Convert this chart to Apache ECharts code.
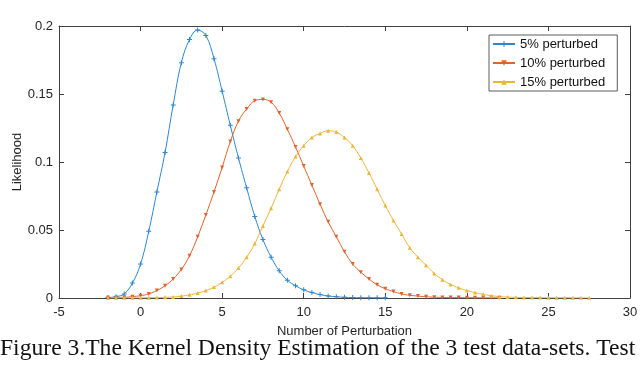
<!DOCTYPE html>
<html>
<head>
<meta charset="utf-8">
<script src="https://cdn.jsdelivr.net/npm/echarts@6/dist/echarts.min.js"></script>
<style>html,body{margin:0;padding:0;background:#fff}#c{width:640px;height:366px}</style>
</head>
<body>
<div id="c"></div>
<script>
// x positions (Number of Perturbation), step 0.5
const xBlue = [-2,-1.5,-1,-0.5,0,0.5,1,1.5,2,2.5,3,3.5,4,4.5,5,5.5,6,6.5,7,7.5,8,8.5,9,9.5,10,10.5,11,11.5,12,12.5,13,13.5,14,14.5,15];
const yBlue = [0.0003,0.001,0.003,0.011,0.025,0.049,0.078,0.107,0.142,0.173,0.190,0.197,0.193,0.176,0.152,0.127,0.103,0.081,0.060,0.043,0.030,0.020,0.013,0.009,0.006,0.004,0.0025,0.0015,0.0009,0.0005,0.0003,0.0002,0.0002,0.0001,0.0001];
const xRed = [-2,-1.5,-1,-0.5,0,0.5,1,1.5,2,2.5,3,3.5,4,4.5,5,5.5,6,6.5,7,7.5,8,8.5,9,9.5,10,10.5,11,11.5,12,12.5,13,13.5,14,14.5,15,15.5,16,16.5,17,17.5,18,18.5,19,19.5,20,20.5,21,21.5,22];
const yRed = [0.0002,0.0003,0.0005,0.001,0.0017,0.003,0.0055,0.009,0.014,0.021,0.031,0.045,0.061,0.078,0.096,0.115,0.130,0.139,0.145,0.146,0.144,0.136,0.124,0.111,0.097,0.083,0.069,0.056,0.045,0.034,0.025,0.019,0.014,0.0097,0.0068,0.0047,0.003,0.002,0.0014,0.0009,0.0006,0.0004,0.0003,0.0003,0.0002,0.0002,0.0001,0.0001,0.0001];
const xYellow = [-2,-1.5,-1,-0.5,0,0.5,1,1.5,2,2.5,3,3.5,4,4.5,5,5.5,6,6.5,7,7.5,8,8.5,9,9.5,10,10.5,11,11.5,12,12.5,13,13.5,14,14.5,15,15.5,16,16.5,17,17.5,18,18.5,19,19.5,20,20.5,21,21.5,22,22.5,23,23.5,24,24.5,25,25.5,26,26.5,27,27.5];
const yYellow = [0.0001,0.0001,0.0001,0.0001,0.0001,0.0002,0.0003,0.0005,0.0008,0.0014,0.0023,0.0036,0.0055,0.008,0.0115,0.016,0.022,0.030,0.040,0.053,0.066,0.080,0.093,0.104,0.112,0.118,0.121,0.123,0.122,0.118,0.112,0.103,0.092,0.080,0.068,0.057,0.047,0.037,0.030,0.024,0.018,0.0135,0.010,0.0075,0.0055,0.004,0.0027,0.0017,0.001,0.0007,0.0005,0.0004,0.0003,0.0003,0.0002,0.0002,0.0002,0.0001,0.0001,0.0001];
const seriesNames = ['5% perturbed','10% perturbed','15% perturbed'];
const xTicks = [-5,0,5,10,15,20,25,30];
const yTicks = [0,0.05,0.1,0.15,0.2];

const colors = ['#2F86CF','#E0622E','#EDB53A'];
const pairs = (xs, ys) => xs.map((x, i) => [x, ys[i]]);
const plusPath = 'path://M4,0h2v10h-2zM0,4h10v2h-10z';

const axisLineStyle = {color:'#404040', width:1};
const labelFont = {fontFamily:'Liberation Sans, Arial, sans-serif', fontSize:13, color:'#262626'};

const chart = echarts.init(document.getElementById('c'), null, {renderer:'canvas'});
chart.setOption({
  animation:false,
  backgroundColor:'#fff',
  grid:{left:59, top:26, right:10, bottom:68, containLabel:false, outerBoundsMode:'none'},
  legend:{
    orient:'vertical', left:489, top:35,
    backgroundColor:'#fff', borderColor:'#333', borderWidth:0.8, borderRadius:0,
    padding:[2,12,2,3], itemGap:5, itemWidth:22, itemHeight:7,
    textStyle:{fontFamily:'Liberation Sans, Arial, sans-serif', fontSize:13, color:'#111', lineHeight:14},
    data:seriesNames
  },
  xAxis:[{
    type:'value', min:xTicks[0], max:xTicks[xTicks.length-1], interval:5, position:'bottom',
    name:'Number of Perturbation', nameLocation:'middle', nameGap:27,
    nameTextStyle:labelFont,
    axisLine:{show:true, onZero:false, lineStyle:axisLineStyle},
    axisTick:{show:true, inside:true, length:5, lineStyle:axisLineStyle},
    axisLabel:Object.assign({margin:8}, labelFont),
    splitLine:{show:false}
  },{
    type:'value', min:xTicks[0], max:xTicks[xTicks.length-1], interval:5, position:'top',
    axisLine:{show:true, onZero:false, lineStyle:axisLineStyle},
    axisTick:{show:true, inside:true, length:5, lineStyle:axisLineStyle},
    axisLabel:{show:false}, splitLine:{show:false}
  }],
  yAxis:[{
    type:'value', min:yTicks[0], max:yTicks[yTicks.length-1], interval:0.05, position:'left',
    axisLine:{show:true, onZero:false, lineStyle:axisLineStyle},
    axisTick:{show:true, inside:true, length:5, lineStyle:axisLineStyle},
    axisLabel:Object.assign({margin:6}, labelFont),
    splitLine:{show:false}
  },{
    type:'value', min:yTicks[0], max:yTicks[yTicks.length-1], interval:0.05, position:'right',
    axisLine:{show:true, onZero:false, lineStyle:axisLineStyle},
    axisTick:{show:true, inside:true, length:5, lineStyle:axisLineStyle},
    axisLabel:{show:false}, splitLine:{show:false}
  }],
  series:[
    {name:seriesNames[0], type:'line', data:pairs(xBlue,yBlue), smooth:0.4,
     symbol:plusPath, symbolSize:5, showAllSymbol:true,
     lineStyle:{color:colors[0], width:1}, itemStyle:{color:colors[0]}},
    {name:seriesNames[1], type:'line', data:pairs(xRed,yRed), smooth:0.4,
     symbol:'triangle', symbolRotate:180, symbolSize:4, showAllSymbol:true,
     lineStyle:{color:colors[1], width:1}, itemStyle:{color:colors[1]}},
    {name:seriesNames[2], type:'line', data:pairs(xYellow,yYellow), smooth:0.4,
     symbol:'triangle', symbolSize:4, showAllSymbol:true,
     lineStyle:{color:colors[2], width:1}, itemStyle:{color:colors[2]}}
  ],
  graphic:[{
    type:'text', x:17, y:162, rotation:Math.PI/2,
    style:{text:'Likelihood', fontFamily:'Liberation Sans, Arial, sans-serif', fontSize:13,
      fill:'#262626', align:'center', verticalAlign:'middle'}
  },{
    type:'text', left:0, top:337,
    style:{text:'Figure 3.The Kernel Density Estimation of the 3 test data-sets. Test',
      fontFamily:'Liberation Serif, Times New Roman, serif', fontSize:23.6, fill:'#111'}
  }]
});
</script>
</body>
</html>
